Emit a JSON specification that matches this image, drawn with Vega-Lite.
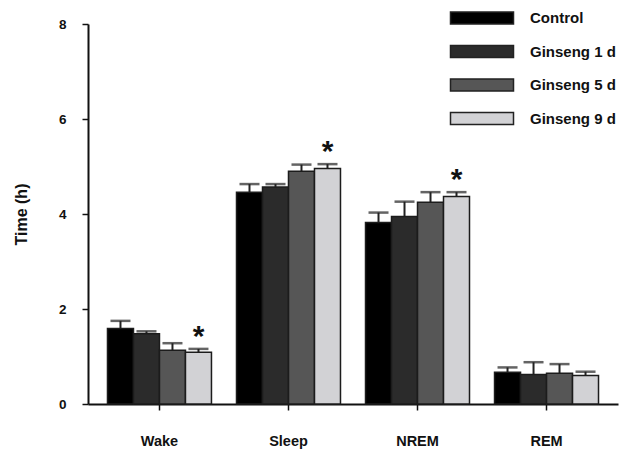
{
  "$schema": "https://vega.github.io/schema/vega-lite/v6.json",
  "width": 530,
  "height": 380,
  "autosize": {"type": "none"},
  "padding": {"left": 88, "top": 24, "right": 13, "bottom": 48},
  "background": "white",
  "config": {
    "view": {"stroke": null},
    "font": "Liberation Sans",
    "axis": {"domainColor": "#111", "domainWidth": 2, "tickColor": "#111", "tickWidth": 1.5, "labelColor": "#111", "titleColor": "#111", "labelFontWeight": "bold", "titleFontWeight": "bold", "grid": false}
  },
  "data": {
    "values": [
      {"cat": "Wake", "group": "Control", "mean": 1.59, "upper": 1.75, "star": ""},
      {"cat": "Wake", "group": "Ginseng 1 d", "mean": 1.48, "upper": 1.53, "star": ""},
      {"cat": "Wake", "group": "Ginseng 5 d", "mean": 1.13, "upper": 1.28, "star": ""},
      {"cat": "Wake", "group": "Ginseng 9 d", "mean": 1.09, "upper": 1.16, "star": "*"},
      {"cat": "Sleep", "group": "Control", "mean": 4.46, "upper": 4.63, "star": ""},
      {"cat": "Sleep", "group": "Ginseng 1 d", "mean": 4.57, "upper": 4.63, "star": ""},
      {"cat": "Sleep", "group": "Ginseng 5 d", "mean": 4.9, "upper": 5.04, "star": ""},
      {"cat": "Sleep", "group": "Ginseng 9 d", "mean": 4.96, "upper": 5.05, "star": "*"},
      {"cat": "NREM", "group": "Control", "mean": 3.82, "upper": 4.03, "star": ""},
      {"cat": "NREM", "group": "Ginseng 1 d", "mean": 3.95, "upper": 4.26, "star": ""},
      {"cat": "NREM", "group": "Ginseng 5 d", "mean": 4.25, "upper": 4.46, "star": ""},
      {"cat": "NREM", "group": "Ginseng 9 d", "mean": 4.37, "upper": 4.46, "star": "*"},
      {"cat": "REM", "group": "Control", "mean": 0.67, "upper": 0.77, "star": ""},
      {"cat": "REM", "group": "Ginseng 1 d", "mean": 0.62, "upper": 0.88, "star": ""},
      {"cat": "REM", "group": "Ginseng 5 d", "mean": 0.65, "upper": 0.84, "star": ""},
      {"cat": "REM", "group": "Ginseng 9 d", "mean": 0.6, "upper": 0.68, "star": ""}
    ]
  },
  "encoding": {
    "x": {
      "field": "cat", "type": "nominal", "sort": ["Wake", "Sleep", "NREM", "REM"],
      "scale": {"paddingInner": 0.194, "paddingOuter": 0.151},
      "axis": {"title": null, "labelAngle": 0, "labelFontSize": 14.5, "labelPadding": 24, "tickSize": 6}
    },
    "xOffset": {"field": "group", "type": "nominal", "sort": ["Control", "Ginseng 1 d", "Ginseng 5 d", "Ginseng 9 d"], "scale": {"paddingInner": 0, "paddingOuter": 0}}
  },
  "layer": [
    {
      "mark": {"type": "rule", "color": "#222", "strokeWidth": 2},
      "encoding": {"y": {"field": "mean", "type": "quantitative"}, "y2": {"field": "upper"}}
    },
    {
      "mark": {"type": "tick", "orient": "horizontal", "color": "#222", "thickness": 2.5, "size": 20},
      "encoding": {"y": {"field": "upper", "type": "quantitative"}}
    },
    {
      "mark": {"type": "bar", "stroke": "#1c1c1c", "strokeWidth": 1.5},
      "encoding": {
        "y": {
          "field": "mean", "type": "quantitative",
          "scale": {"domain": [0, 8], "nice": false},
          "axis": {"title": "Time (h)", "values": [0, 2, 4, 6, 8], "labelFontSize": 13.5, "titleFontSize": 16, "tickSize": 6, "labelPadding": 16, "titlePadding": 29}
        },
        "color": {
          "field": "group", "type": "nominal",
          "sort": ["Control", "Ginseng 1 d", "Ginseng 5 d", "Ginseng 9 d"],
          "scale": {"domain": ["Control", "Ginseng 1 d", "Ginseng 5 d", "Ginseng 9 d"], "range": ["#000000", "#2b2b2b", "#565656", "#d2d2d5"]},
          "legend": {
            "title": null, "orient": "none", "legendX": 383, "legendY": -17,
            "symbolType": "M-3.15,-0.6H3.15V0.6H-3.15Z", "symbolSize": 400,
            "symbolStrokeColor": "#222", "symbolStrokeWidth": 1.5,
            "labelFontSize": 15, "labelFontWeight": "bold", "labelColor": "#111",
            "labelOffset": 37, "rowPadding": 13.5
          }
        }
      }
    },
    {
      "mark": {"type": "text", "fontSize": 30, "fontWeight": "bold", "baseline": "alphabetic", "dy": -3, "color": "#111"},
      "encoding": {"y": {"field": "upper", "type": "quantitative"}, "text": {"field": "star"}}
    }
  ]
}
